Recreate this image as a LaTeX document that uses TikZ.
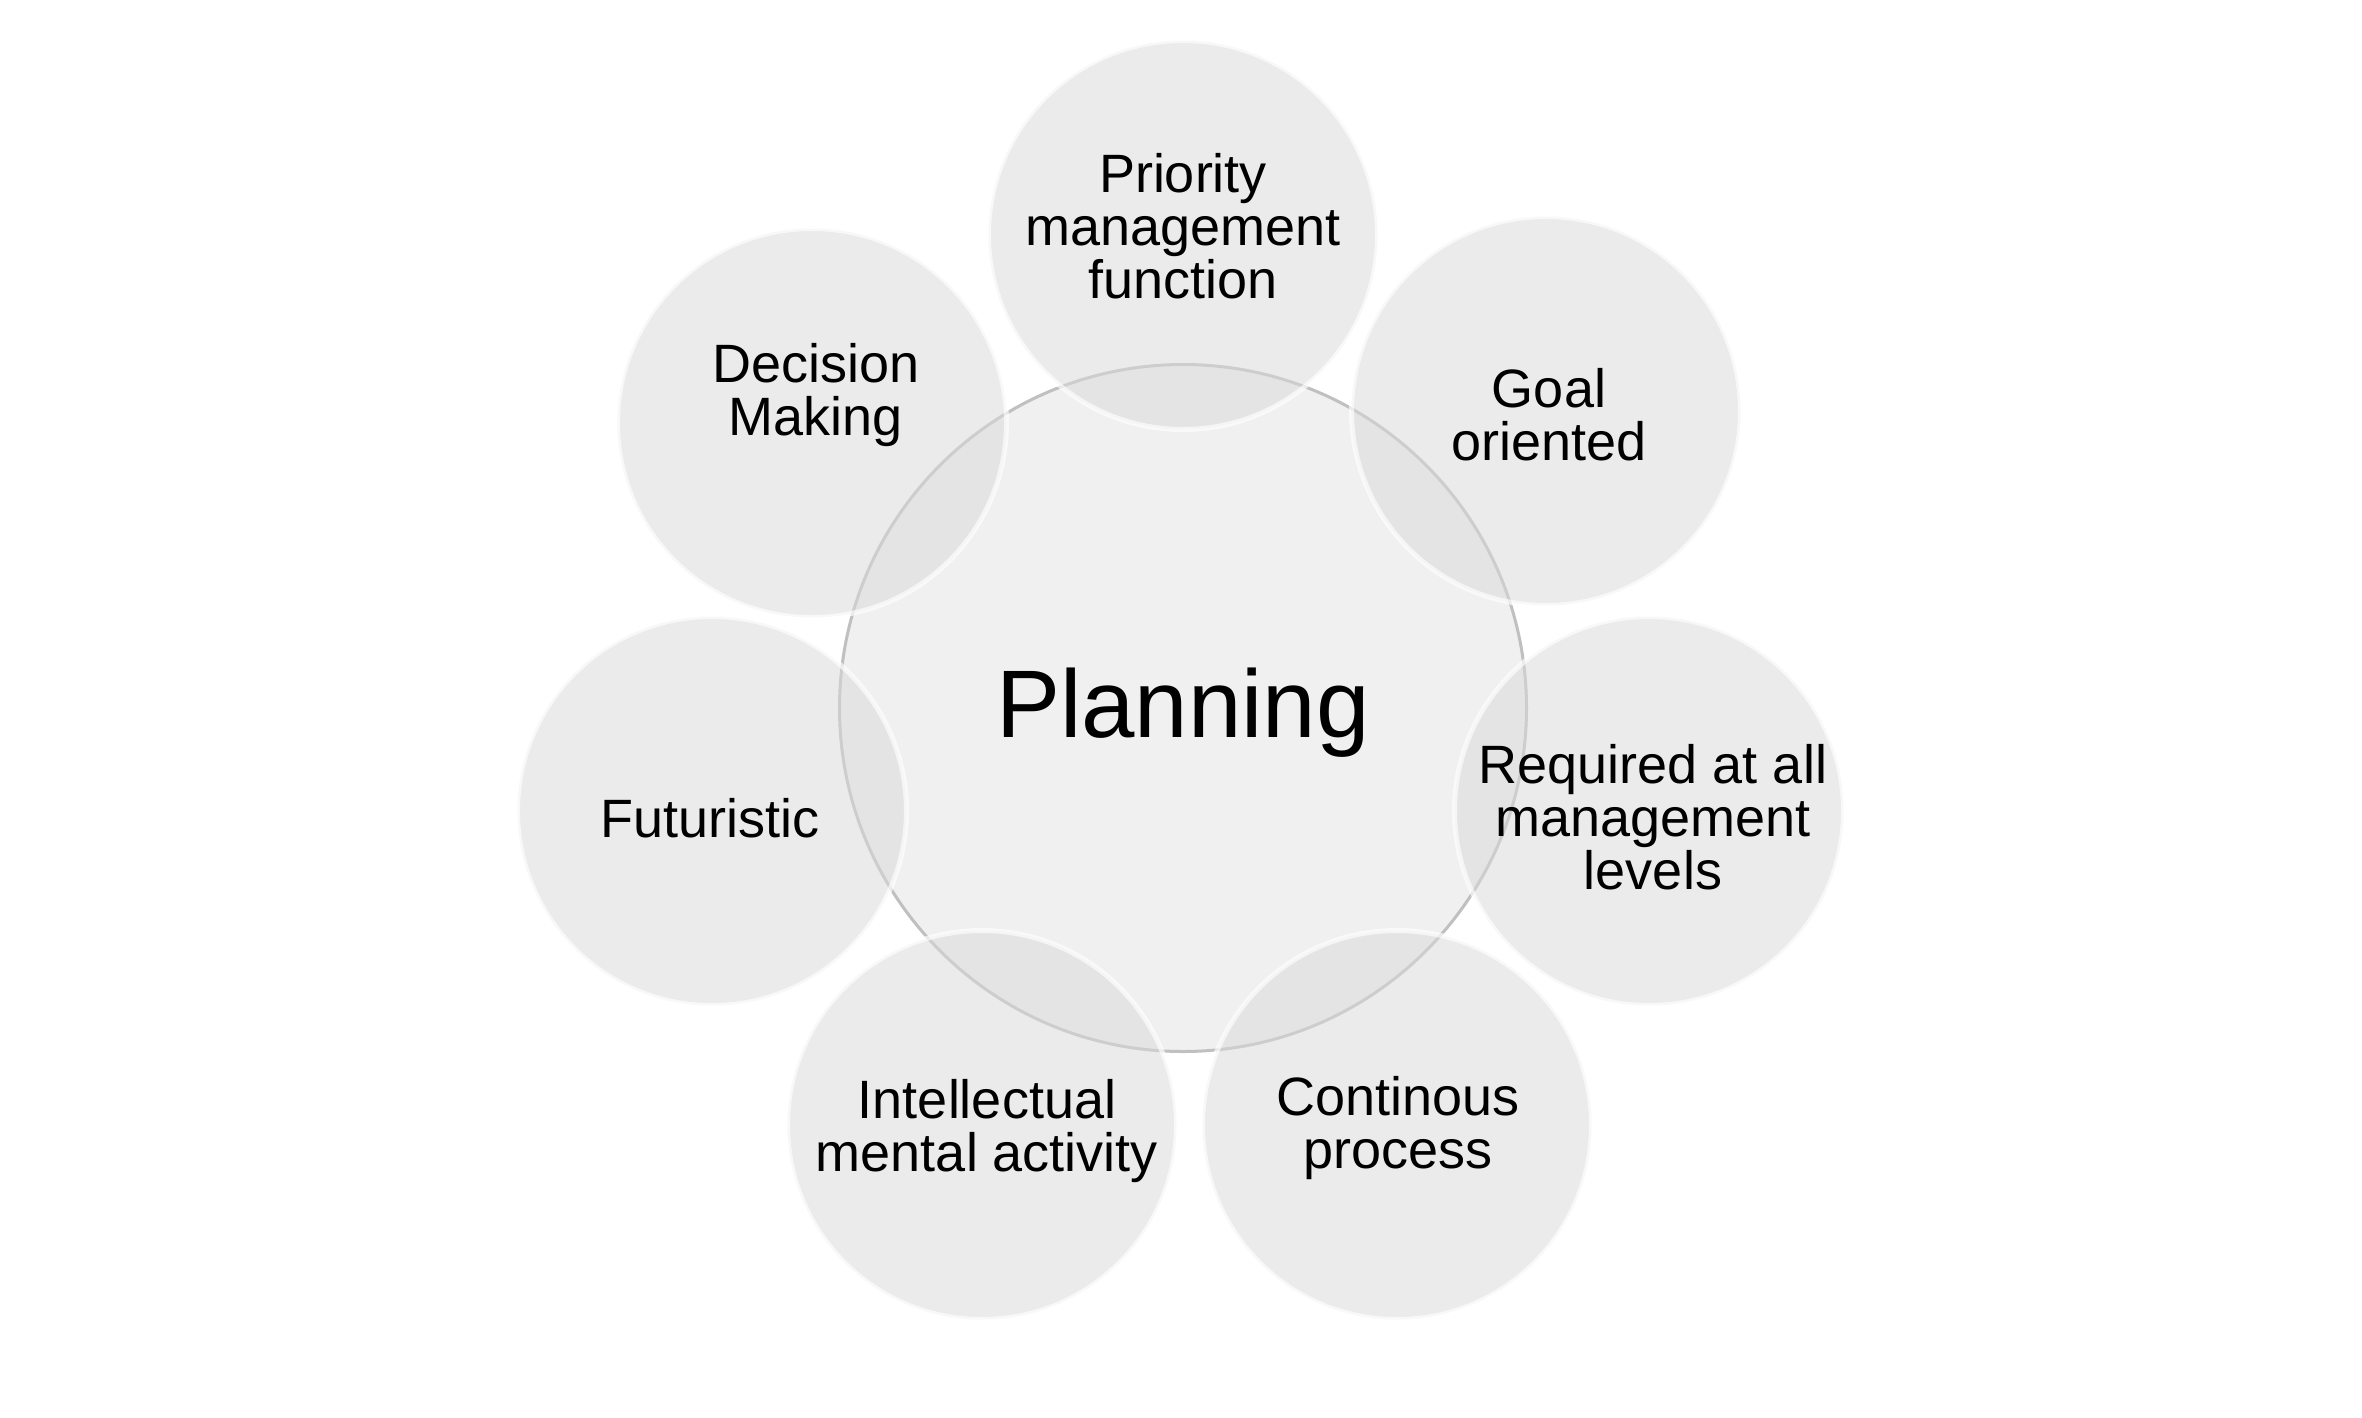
\documentclass[tikz,border=0pt]{standalone}
\usepackage{fontspec}
\setmainfont{Liberation Sans}
\definecolor{centerfill}{RGB}{240,240,240}
\definecolor{centerline}{RGB}{192,192,192}
\definecolor{satfill}{RGB}{218,218,218}
\tikzset{
  hub/.style={circle, inner sep=0pt, minimum size=687pt, fill=centerfill, draw=centerline, line width=3pt},
  sat/.style={circle, inner sep=0pt, minimum size=389pt, fill=satfill, fill opacity=0.53, draw=white, draw opacity=0.65, line width=5pt},
  lbl/.style={align=center, inner sep=0pt, text=black, font=\fontsize{54}{53}\selectfont},
  biglbl/.style={inner sep=0pt, text=black, font=\fontsize{96}{96}\selectfont}
}
\begin{document}
\begin{tikzpicture}[x=1pt,y=-1pt]
\useasboundingbox (0,0) rectangle (2362,1417);
\fill[white] (0,0) rectangle (2362,1417);
% hub
\node[hub] (hub) at (1183,708) {};
% satellites
\node[sat] (s1) at (1183,235) {};
\node[sat] (s2) at (1546,411) {};
\node[sat] (s3) at (1649,811) {};
\node[sat] (s4) at (1397,1125) {};
\node[sat] (s5) at (982,1125) {};
\node[sat] (s6) at (712,811) {};
\node[sat] (s7) at (812,423) {};
% labels
\node[biglbl] (t0) at (1183,713) {Planning};
\node[lbl] (t1) at (1183,226) {Priority\\management\\function};
\node[lbl] (t2) at (1549,415) {Goal\\oriented};
\node[lbl] (t3) at (1653,817) {Required at all\\management\\levels};
\node[lbl] (t4) at (1398,1128) {Continous\\process};
\node[lbl] (t5) at (987,1131) {Intellectual\\mental activity};
\node[lbl] (t6) at (710,818) {Futuristic};
\node[lbl] (t7) at (816,395) {Decision\\Making};
\end{tikzpicture}
\end{document}
